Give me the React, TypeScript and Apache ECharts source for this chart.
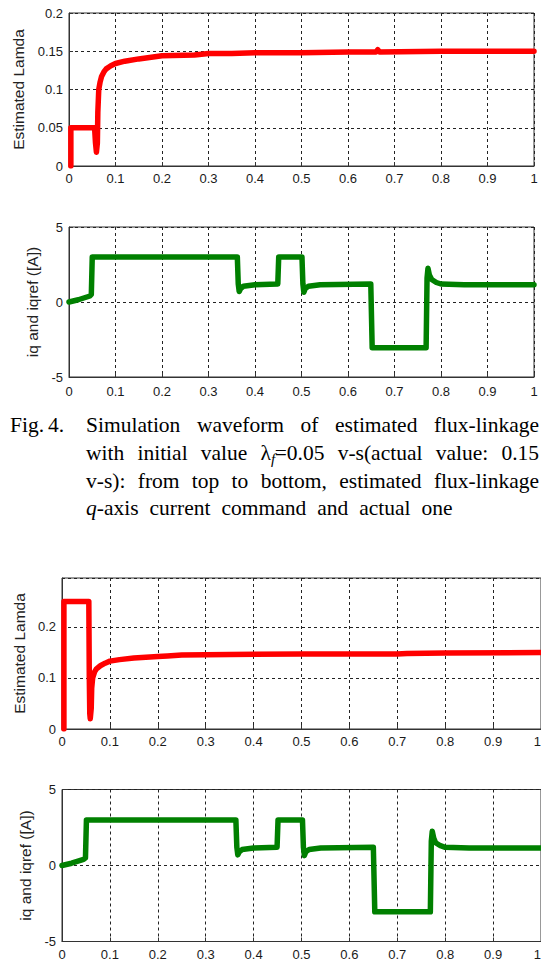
import React, { useEffect, useRef } from "react";
import * as echarts from "echarts";

// ---------- data ----------
const xMin = 0;
const xMax = 1;
const xInterval = 0.1;

// Fig. 4 top: estimated flux-linkage, initial value 0.05
const lambdaA: number[][] = [
  [0.004, 0], [0.004, 0.05], [0.055, 0.05], [0.057, 0.03], [0.059, 0.018], [0.061, 0.03],
  [0.062, 0.07], [0.064, 0.1], [0.067, 0.11], [0.07, 0.117], [0.075, 0.123], [0.08, 0.127],
  [0.09, 0.131], [0.1, 0.134], [0.12, 0.137], [0.15, 0.14], [0.2, 0.144], [0.27, 0.145],
  [0.3, 0.147], [0.35, 0.147], [0.4, 0.148], [0.5, 0.148], [0.6, 0.149], [0.66, 0.149],
  [0.664, 0.152], [0.668, 0.149], [0.8, 0.15], [1, 0.15],
];

// Fig. 4 bottom: q-axis current command and actual one
const iqA: number[][] = [
  [0, 0], [0.02, 0.15], [0.045, 0.4], [0.048, 0.5], [0.05, 3], [0.362, 3], [0.364, 1.2],
  [0.366, 0.7], [0.369, 0.9], [0.375, 1.05], [0.4, 1.15], [0.449, 1.2], [0.451, 3],
  [0.501, 3], [0.503, 1.2], [0.505, 0.65], [0.508, 0.9], [0.515, 1.05], [0.54, 1.15],
  [0.649, 1.2], [0.652, -3.05], [0.768, -3.05], [0.77, 1.6], [0.772, 2.25], [0.775, 1.8],
  [0.78, 1.5], [0.79, 1.3], [0.8, 1.2], [0.85, 1.15], [1, 1.15],
];

// second figure top: estimated flux-linkage, initial value 0.25
const lambdaB: number[][] = [
  [0.004, 0], [0.004, 0.25], [0.056, 0.25], [0.057, 0.1], [0.058, 0.03], [0.059, 0.02],
  [0.061, 0.04], [0.062, 0.08], [0.064, 0.1], [0.068, 0.112], [0.072, 0.118], [0.08, 0.124],
  [0.09, 0.129], [0.1, 0.133], [0.12, 0.136], [0.15, 0.139], [0.2, 0.142], [0.22, 0.143],
  [0.25, 0.145], [0.35, 0.146], [0.5, 0.147], [0.7, 0.147], [0.72, 0.148], [0.8, 0.149],
  [1, 0.15],
];

// second figure bottom: q-axis current
const iqB: number[][] = [
  [0, 0], [0.02, 0.15], [0.045, 0.4], [0.049, 0.5], [0.051, 3], [0.363, 3], [0.365, 1.2],
  [0.367, 0.7], [0.37, 0.9], [0.376, 1.05], [0.4, 1.15], [0.449, 1.2], [0.451, 3],
  [0.502, 3], [0.504, 1.2], [0.506, 0.65], [0.509, 0.9], [0.516, 1.05], [0.54, 1.15],
  [0.65, 1.2], [0.653, -3.05], [0.769, -3.05], [0.771, 1.6], [0.773, 2.25], [0.776, 1.8],
  [0.78, 1.5], [0.79, 1.3], [0.8, 1.2], [0.85, 1.15], [1, 1.15],
];

const lambdaATicks = { min: 0, max: 0.2, interval: 0.05 };
const iqTicks = { min: -5, max: 5, interval: 5 };
const lambdaBTicks = { min: 0, max: 0.296, interval: 0.1 };

const yTitleLambda = "Estimated Lamda";
const yTitleIq = "iq and iqref ([A])";

type Frag = { t: string; it?: boolean; sub?: boolean };
const captionHead: string[] = ["Fig.", "4."];
const captionLines: Frag[][][] = [
  [[{ t: "Simulation" }], [{ t: "waveform" }], [{ t: "of" }], [{ t: "estimated" }], [{ t: "flux-linkage" }]],
  [
    [{ t: "with" }], [{ t: "initial" }], [{ t: "value" }],
    [{ t: "λ" }, { t: "f", it: true, sub: true }, { t: "=0.05" }],
    [{ t: "v-s(actual" }], [{ t: "value:" }], [{ t: "0.15" }],
  ],
  [[{ t: "v-s):" }], [{ t: "from" }], [{ t: "top" }], [{ t: "to" }], [{ t: "bottom," }], [{ t: "estimated" }], [{ t: "flux-linkage" }]],
  [[{ t: "q", it: true }, { t: "-axis" }], [{ t: "current" }], [{ t: "command" }], [{ t: "and" }], [{ t: "actual" }], [{ t: "one" }]],
];

// ---------- styles ----------
const SERIF = '"Liberation Serif", "Times New Roman", serif';
const SANS = '"Liberation Sans", Arial, Helvetica, sans-serif';
const RED = "#ff0000";
const GREEN = "#008000";
const AX = "#333333";

function buildCaption(): any[] {
  const canvas = document.createElement("canvas");
  const ctx = canvas.getContext("2d") as CanvasRenderingContext2D;
  const size = 21.5;
  const subSize = 15;
  const measure = (f: Frag) => {
    ctx.font = `${f.it ? "italic " : ""}${f.sub ? subSize : size}px ${SERIF}`;
    return ctx.measureText(f.t).width;
  };
  const fragAdv = (f: Frag) => measure(f) + (f.sub ? -0.5 : 0);
  const wordW = (w: Frag[]) => w.reduce((a, f) => a + fragAdv(f), 0);
  const baselines = [431.5, 459.3, 487.1, 514.9];
  const x0 = 86;
  const right = 539;
  const els: any[] = [];
  const put = (f: Frag, x: number, base: number) => {
    const s = f.sub ? subSize : size;
    const yb = base + (f.sub ? 4 : 0);
    els.push({
      type: "text",
      x,
      y: yb - 0.305 * s,
      silent: true,
      style: {
        text: f.t,
        fontSize: s,
        fontFamily: SERIF,
        fontStyle: f.it ? "italic" : "normal",
        fill: "#000",
        align: "left",
        verticalAlign: "middle",
        textAlign: "left",
        textVerticalAlign: "middle",
      },
    });
  };
  put({ t: captionHead[0] }, 10, baselines[0]);
  put({ t: captionHead[1] }, 48, baselines[0]);
  captionLines.forEach((line, li) => {
    const total = line.reduce((a, w) => a + wordW(w), 0);
    const gap = li < 3 ? (right - x0 - total) / (line.length - 1) : 11;
    let x = x0;
    line.forEach((w) => {
      let fx = x;
      w.forEach((f) => {
        put(f, fx, baselines[li]);
        fx += fragAdv(f);
      });
      x += wordW(w) + gap;
    });
  });
  return els;
}

function xAxisCfg(gridIndex: number, margin: number, alignRight = false) {
  return {
    gridIndex,
    type: "value",
    min: xMin,
    max: xMax,
    interval: xInterval,
    axisLine: { show: true, onZero: false, lineStyle: { color: AX, width: 1 } },
    axisTick: { show: true, inside: true, length: 4, lineStyle: { color: AX } },
    axisLabel: {
      color: "#1a1a1a", fontSize: 13, fontFamily: SANS, margin,
      ...(alignRight ? { alignMaxLabel: "right" } : {}),
    },
    splitLine: { show: true, lineStyle: { color: "#222", width: 1, type: [3, 3] } },
  };
}

function yAxisCfg(gridIndex: number, ticks: { min: number; max: number; interval: number }, name: string, nameGap: number, hideMax = false) {
  return {
    gridIndex,
    type: "value",
    min: ticks.min,
    max: ticks.max,
    interval: ticks.interval,
    name,
    nameLocation: "middle",
    nameGap,
    nameTextStyle: { color: "#222", fontSize: 15.5, fontFamily: SANS },
    axisLine: { show: true, onZero: false, lineStyle: { color: AX, width: 1 } },
    axisTick: { show: true, inside: true, length: 4, lineStyle: { color: AX } },
    axisLabel: { color: "#1a1a1a", fontSize: 13, fontFamily: SANS, margin: 6, showMaxLabel: !hideMax },
    splitLine: { show: true, lineStyle: { color: "#222", width: 1, type: [3, 3] } },
  };
}

function lineSeries(idx: number, data: number[][], color: string) {
  return {
    type: "line",
    xAxisIndex: idx,
    yAxisIndex: idx,
    data,
    showSymbol: false,
    symbol: "none",
    clip: true,
    silent: true,
    lineStyle: { color, width: 5.5, cap: "round", join: "round" },
  };
}

export default function App() {
  const ref = useRef<HTMLDivElement>(null);
  useEffect(() => {
    if (!ref.current) return;
    const chart = echarts.init(ref.current, undefined, { renderer: "svg" });
    const gridBase = { show: true, borderColor: AX, borderWidth: 1, backgroundColor: "transparent", containLabel: false, outerBoundsMode: "none" };
    chart.setOption({
      animation: false,
      backgroundColor: "#ffffff",
      grid: [
        { ...gridBase, left: 69, top: 13, width: 465, height: 153 },
        { ...gridBase, left: 69, top: 227, width: 465, height: 150 },
        { ...gridBase, left: 62, top: 578, width: 479, height: 151 },
        { ...gridBase, left: 62, top: 789.5, width: 479, height: 152 },
      ],
      xAxis: [xAxisCfg(0, 6), xAxisCfg(1, 8), xAxisCfg(2, 6, true), xAxisCfg(3, 6, true)],
      yAxis: [
        yAxisCfg(0, lambdaATicks, yTitleLambda, 39),
        yAxisCfg(1, iqTicks, yTitleIq, 23),
        yAxisCfg(2, lambdaBTicks, yTitleLambda, 33, true),
        yAxisCfg(3, iqTicks, yTitleIq, 25),
      ],
      series: [
        lineSeries(0, lambdaA, RED),
        lineSeries(1, iqA, GREEN),
        lineSeries(2, lambdaB, RED),
        lineSeries(3, iqB, GREEN),
      ],
      graphic: buildCaption(),
    });
    return () => chart.dispose();
  }, []);
  return (
    <div
      ref={ref}
      style={{ position: "absolute", left: 0, top: 0, width: 541, height: 960, overflow: "hidden", background: "#fff" }}
    />
  );
}
